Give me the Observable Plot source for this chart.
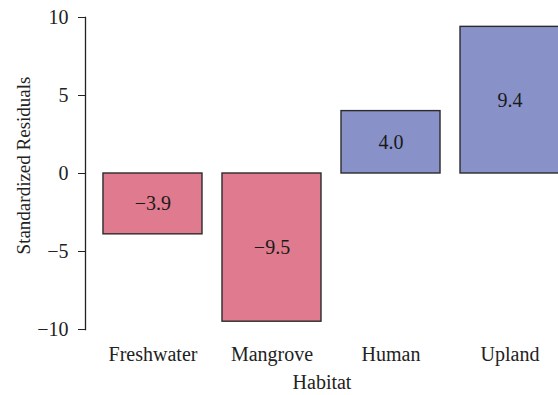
<!DOCTYPE html>
<html>
<head>
<meta charset="utf-8">
<script src="https://cdn.jsdelivr.net/npm/d3@7"></script>
<script src="https://cdn.jsdelivr.net/npm/@observablehq/plot@0.6"></script>
<style>
  html, body { margin: 0; padding: 0; background: #fff; overflow: hidden; }
  #chart svg { display: block; }
  #chart svg text { font-family: 'Liberation Serif', 'Times New Roman', serif; }
</style>
</head>
<body>
<div id="chart"></div>
<script>
const habitats = ["Freshwater", "Mangrove", "Human", "Upland"];
const residuals = [-3.9, -9.5, 4.0, 9.4];
const yTicks = [-10, -5, 0, 5, 10];
const xLabel = "Habitat";
const yLabel = "Standardized Residuals";

const data = habitats.map((h, i) => ({habitat: h, value: residuals[i], sign: residuals[i] < 0 ? "neg" : "pos"}));
const fmt = d3.format(".1f");
const serif = "'Liberation Serif', 'Times New Roman', serif";

const chart = Plot.plot({
  width: 558,
  height: 395,
  marginTop: 17,
  marginBottom: 66,
  marginLeft: 85,
  marginRight: 0,
  style: {fontFamily: serif, fontSize: "19px", color: "#222", background: "#fff", overflow: "hidden"},
  x: {domain: habitats, range: [85, 577], paddingInner: 0.168, paddingOuter: 0.151, round: false, label: null},
  y: {domain: [-10, 10], label: null},
  color: {domain: ["neg", "pos"], range: ["#e07a8e", "#8891c8"]},
  marks: [
    Plot.barY(data, {x: "habitat", y: "value", fill: "sign", stroke: "#2b2b2b", strokeWidth: 1.4}),
    Plot.text(data, {x: "habitat", y: d => d.value / 2, text: d => fmt(d.value), fontSize: 20, fontFamily: serif, fill: "#1a1a1a"}),
    Plot.axisY({ticks: yTicks, tickSize: 7, tickPadding: 10, tickFormat: d => d3.format("")(d), fontSize: 20, fontFamily: serif, label: null, stroke: "#222"}),
    Plot.frame({anchor: "left", stroke: "#222", strokeWidth: 1.3}),
    Plot.axisX({tickSize: 0, tickPadding: 17, fontSize: 20, fontFamily: serif, label: null}),
    Plot.text([xLabel], {frameAnchor: "bottom", text: d => d, dy: 59, fontSize: 20, fontFamily: serif, fill: "#222"}),
    Plot.text([yLabel], {frameAnchor: "left", textAnchor: "middle", text: d => d, rotate: -90, dx: -62, dy: -8, fontSize: 19, fontFamily: serif, fill: "#222"})
  ]
});
document.getElementById("chart").appendChild(chart);
</script>
</body>
</html>
